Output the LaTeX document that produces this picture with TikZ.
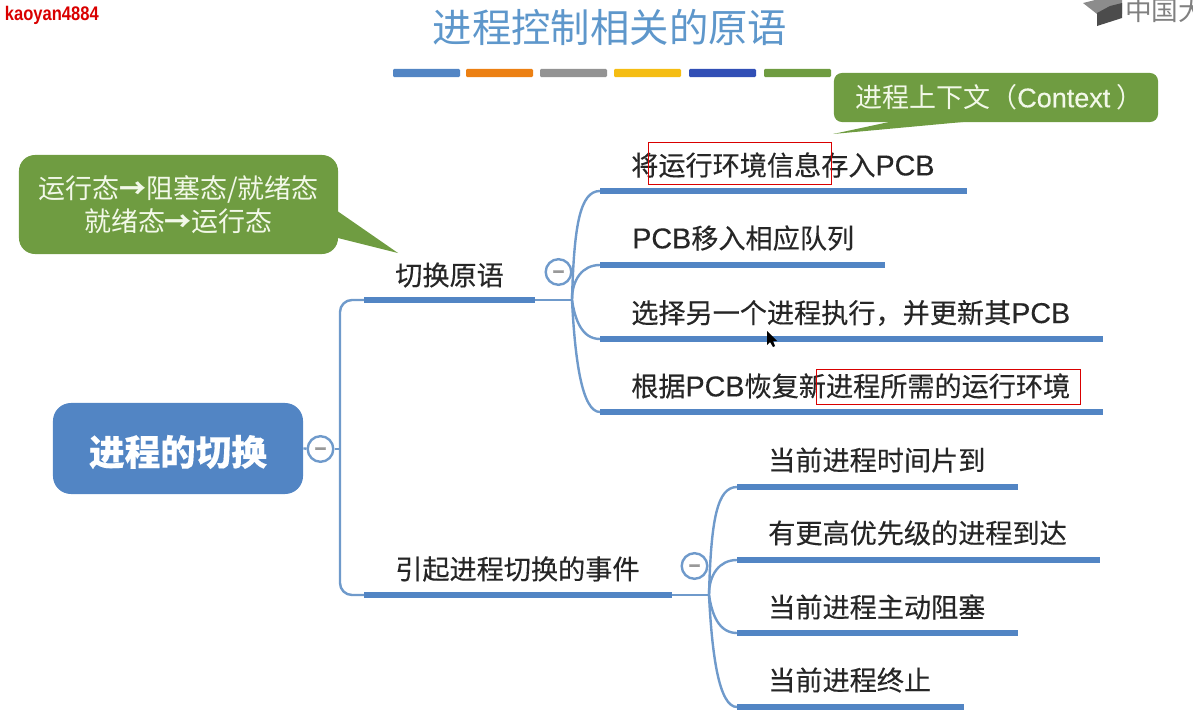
\documentclass[tikz,border=0pt]{standalone}
\usepackage{fontspec}
\setmainfont{Noto Sans CJK SC}[FakeBold=0.3]
\newfontfamily\latinfont{Liberation Sans}[FakeBold=0.3]
\newfontfamily\accountfont{Liberation Sans Bold}[FakeStretch=0.84]
\newfontfamily\plainfont{Noto Sans CJK SC}
\usetikzlibrary{arrows.meta}
\definecolor{mapblue}{HTML}{5285C4}
\definecolor{linkblue}{HTML}{6F9ACB}
\definecolor{notegreen}{HTML}{6F9C41}
\definecolor{titleblue}{HTML}{5E97CB}
\definecolor{inkgray}{HTML}{262626}
\definecolor{noteink}{HTML}{F2F8E8}
\newcommand{\pcbname}{{\latinfont\fontsize{20.4}{23}\selectfont PCB}}
\newcommand{\notearrow}{{\bfseries →}}
\newcommand{\foldmark}{\raisebox{-5pt}[0pt][0pt]{−}}

\begin{document}
\begin{tikzpicture}[x=0.025cm,y=-0.025cm]
\clip (0,0) rectangle (1193,723);
\begin{scope}[every node/.style={inner sep=0pt,outer sep=0pt}]
    \node[anchor=west,text=red!85!black,font=\accountfont\fontsize{14}{16}\selectfont] (account) at (5,15) {kaoyan4884};
    \node[text=titleblue,font=\plainfont\fontsize{28}{32}\selectfont] (title) at (610,27) {进程控制相关的原语};
    \node[anchor=west,text=gray,font=\plainfont\fontsize{19}{22}\selectfont] (logotext) at (1125,10) {中国大};
\end{scope}
\fill[black!45] (1083,3) -- (1095,0) -- (1122,0) -- (1122,14) -- (1097,14) -- cycle;
\fill[black!70] (1097,13) -- (1110,6) -- (1122,3) -- (1122,18) -- (1097,26) -- cycle;
\begin{scope}[every node/.style={minimum width=1.675cm,minimum height=0.2cm,inner sep=0pt,outer sep=0pt,anchor=west,rounded corners=0.03cm}]
    \node[fill=mapblue] (rule1) at (393,73) {};
    \node[fill=orange!70!brown] (rule2) at (466,73) {};
    \node[fill=gray!85] (rule3) at (540,73) {};
    \node[fill=yellow!55!orange!90!brown] (rule4) at (614,73) {};
    \node[fill=mapblue!70!blue!85!black] (rule5) at (689,73) {};
    \node[fill=notegreen] (rule6) at (764,73) {};
\end{scope}
\begin{scope}[every node/.style={fill=notegreen,rounded corners=0.4cm,inner sep=0pt,outer sep=0pt,text=noteink,align=center,font=\plainfont\fontsize{19.2}{23.5}\selectfont}]
    \node[minimum width=7.975cm,minimum height=2.475cm] (note1) at (178.5,204.5) {运行态\notearrow 阻塞态/就绪态\\就绪态\notearrow 运行态};
    \node[minimum width=8.1cm,minimum height=1.225cm,rounded corners=0.2cm] (note2) at (996,97.5) {};
\end{scope}
\node[anchor=west,inner sep=0pt,text=noteink,font=\plainfont\fontsize{19.2}{20}\selectfont] (note2text) at (855,97) {进程上下文（{\latinfont Context} ）};
\coordinate (tip1) at (398,253);
\coordinate (tip2) at (833,134);
\fill[notegreen] (note1.east) ++(0,7) -- (tip1) -- ++(-60,-15) -- cycle;
\fill[notegreen] (note2.south west) ++(55,0) -- (tip2) -- ++(130,-12) -- cycle;
\begin{scope}[every node/.style={fill=mapblue,minimum height=0.15cm,inner sep=0pt,outer sep=0pt,anchor=west}]
    \node[minimum width=4.275cm] (switch) at (364,300) {};
    \node[minimum width=7.7cm] (event) at (364,595) {};
    \node[minimum width=9.175cm] (save) at (600,191) {};
    \node[minimum width=7.125cm] (queue) at (600,265) {};
    \node[minimum width=12.575cm] (select) at (600,339) {};
    \node[minimum width=12.575cm] (restore) at (600,412) {};
    \node[minimum width=7.025cm] (slice) at (737,487) {};
    \node[minimum width=9.075cm] (priority) at (737,560) {};
    \node[minimum width=7.025cm] (block) at (737,633) {};
    \node[minimum width=5.675cm] (finish) at (737,707) {};
\end{scope}
\node[fill=mapblue,rounded corners=0.45cm,minimum width=6.25cm,minimum height=2.275cm,text=white,font=\bfseries\fontsize{25.3}{30}\selectfont] (root) at (178,448.5) {\raisebox{-12pt}[0pt][0pt]{进程的切换}};
\begin{scope}[every node/.style={anchor=west,inner sep=0pt,text=inkgray,font=\fontsize{19.3}{23}\selectfont}]
    \node (switchtext) at (395,275) {切换原语};
    \node (eventtext) at (395,569) {引起进程切换的事件};
    \node (savetext) at (631,165) {将运行环境信息存入\pcbname};
    \node (queuetext) at (632,238) {\pcbname 移入相应队列};
    \node (selecttext) at (631,313) {选择另一个进程执行，并更新其\pcbname};
    \node (restoretext) at (631,386) {根据\pcbname 恢复新进程所需的运行环境};
    \node (slicetext) at (768,460) {当前进程时间片到};
    \node (prioritytext) at (768,533) {有更高优先级的进程到达};
    \node (blocktext) at (768,607) {当前进程主动阻塞};
    \node (finishtext) at (768,680) {当前进程终止};
\end{scope}
\begin{scope}[every node/.style={circle,draw=linkblue,line width=0.06cm,fill=white,minimum size=0.64cm,inner sep=0pt,text=gray!80,font=\bfseries\fontsize{14}{14}\selectfont}]
    \node (fold1) at (320.5,449) {\foldmark};
    \node (fold2) at (558.5,272) {\foldmark};
    \node (fold3) at (694.5,566) {\foldmark};
\end{scope}
\begin{scope}[link_edge/.style={draw=linkblue,line width=0.06cm}]
    \coordinate (trunk) at (340,449);
    \coordinate (hub1) at (572,300);
    \coordinate (hub2) at (709,595);
    \path (root.east) edge [link_edge] (fold1);
    \path (fold1) edge [link_edge] (trunk);
    \draw[link_edge,rounded corners=0.3cm] (switch.west) -- (340,300) -- (340,595) -- (event.west);
    \path (switch.east) edge [link_edge] (hub1);
    \path (event.east) edge [link_edge] (hub2);
    \draw[link_edge] (hub1) .. controls (574,225) and (580,191) .. (save.west);
    \draw[link_edge] (hub1) .. controls (572,280) and (582,265) .. (queue.west);
    \draw[link_edge] (hub1) .. controls (575,320) and (582,339) .. (select.west);
    \draw[link_edge] (hub1) .. controls (575,360) and (582,412) .. (restore.west);
    \draw[link_edge] (hub2) .. controls (711,520) and (717,487) .. (slice.west);
    \draw[link_edge] (hub2) .. controls (709,575) and (719,560) .. (priority.west);
    \draw[link_edge] (hub2) .. controls (712,615) and (719,633) .. (block.west);
    \draw[link_edge] (hub2) .. controls (712,655) and (719,707) .. (finish.west);
\end{scope}
\begin{scope}[mark_box/.style={draw=red!85!black,line width=0.025cm}]
    \draw[mark_box] (648,142) rectangle (831,184);
    \draw[mark_box] (816,369) rectangle (1080,404);
\end{scope}
\fill[black] (767,331) -- (767,345) -- (770,342) -- (773,347) -- (775,346) -- (773,341) -- (777,341) -- cycle;
\end{tikzpicture}
\end{document}
